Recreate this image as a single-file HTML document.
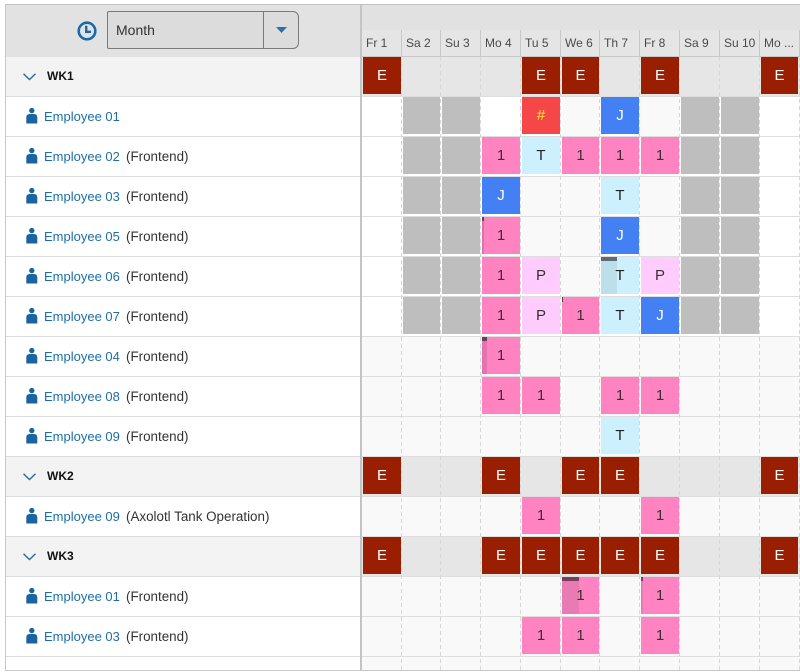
<!DOCTYPE html>
<html><head><meta charset="utf-8"><style>
*{margin:0;padding:0;box-sizing:border-box}
body{width:800px;height:672px;position:relative;overflow:hidden;background:#fff;font-family:"Liberation Sans",Arial,sans-serif}
.a{position:absolute}
.c{position:absolute;height:37px;line-height:37px;text-align:center;font-size:15px;color:#333}
.E{background:#9a1f00;color:#fff}
.P1{background:#ff82c1}
.T{background:#cdf0fe;color:#222}
.J{background:#4380f4;color:#fff}
.P{background:#ffccfd}
.G{background:#bebebe}
.R{background:#f54747;color:#ffe640}
.nm{position:absolute;left:44px;height:39px;line-height:39px;font-size:13px;color:#1d6ea6;white-space:nowrap}
.nm span{color:#333;font-size:13.4px;position:absolute;left:82px;top:0}
.wk{position:absolute;left:47px;height:39px;line-height:39px;font-size:12px;font-weight:bold;color:#111}
.hl{position:absolute;left:6px;width:354px;height:1px;background:#dcdcdc}
.rl{position:absolute;left:362px;width:438px;height:1px;background:#dedede}
.d{position:absolute;top:30px;height:27px;line-height:26px;font-size:12px;color:#4a4a4a;padding-left:4px;border-right:1px solid #c8c8c8;border-bottom:1px solid #c8c8c8;background:#e5e5e5;white-space:nowrap;overflow:hidden}
.pi{position:absolute;left:26px}
.cv{position:absolute;left:23px}
</style></head><body>

<!-- left header -->
<div class="a" style="left:6px;top:5px;width:354px;height:52px;background:#e2e2e2"></div>
<svg class="a" style="left:76px;top:20px" width="22" height="22" viewBox="0 0 22 22">
<circle cx="11" cy="11" r="8.3" fill="none" stroke="#1a6aab" stroke-width="2.6"/>
<path d="M10.2 5.8 V11.8 H15" fill="none" stroke="#1a6aab" stroke-width="2.4"/>
</svg>
<div class="a" style="left:107px;top:11px;width:192px;height:38px;background:#dcdcdc;border:1px solid #7a7a7a;border-radius:2px 6px 6px 2px"></div>
<div class="a" style="left:263px;top:12px;width:1px;height:36px;background:#7a7a7a"></div>
<div class="a" style="left:116px;top:11px;height:38px;line-height:38px;font-size:14px;color:#333">Month</div>
<svg class="a" style="left:276px;top:27px" width="11" height="6" viewBox="0 0 11 6"><path d="M0 0 H11 L5.5 6 Z" fill="#2a6fb0"/></svg>

<!-- right header -->
<div class="a" style="left:362px;top:5px;width:438px;height:25px;background:#e1e1e1"></div>
<div class="a" style="left:362px;top:30px;width:438px;height:1px;background:#c8c8c8"></div>
<div class="d" style="left:362px;width:40px">Fr 1</div>
<div class="d" style="left:402px;width:39px">Sa 2</div>
<div class="d" style="left:441px;width:40px">Su 3</div>
<div class="d" style="left:481px;width:40px">Mo 4</div>
<div class="d" style="left:521px;width:40px">Tu 5</div>
<div class="d" style="left:561px;width:39px">We 6</div>
<div class="d" style="left:600px;width:40px">Th 7</div>
<div class="d" style="left:640px;width:40px">Fr 8</div>
<div class="d" style="left:680px;width:40px">Sa 9</div>
<div class="d" style="left:720px;width:40px">Su 10</div>
<div class="d" style="left:760px;width:40px">Mo ...</div>

<!-- left row backgrounds -->
<div class="a" style="left:6px;top:57px;width:354px;height:39px;background:#f3f3f3"></div>
<div class="a" style="left:6px;top:457px;width:354px;height:39px;background:#f3f3f3"></div>
<div class="a" style="left:6px;top:537px;width:354px;height:39px;background:#f3f3f3"></div>

<!-- right row backgrounds -->
<div class="a" style="left:362px;top:57px;width:438px;height:39px;background:#e6e6e6"></div>
<div class="a" style="left:362px;top:337px;width:438px;height:119px;background:#f9f9f9"></div>
<div class="a" style="left:362px;top:457px;width:438px;height:39px;background:#e6e6e6"></div>
<div class="a" style="left:362px;top:497px;width:438px;height:39px;background:#f9f9f9"></div>
<div class="a" style="left:362px;top:537px;width:438px;height:39px;background:#e6e6e6"></div>
<div class="a" style="left:362px;top:577px;width:438px;height:94px;background:#f9f9f9"></div>
<!-- light cells in WK1 section -->
<div class="a" style="left:561px;top:97px;width:38px;height:39px;background:#f9f9f9"></div>
<div class="a" style="left:640px;top:97px;width:39px;height:39px;background:#f9f9f9"></div>
<div class="a" style="left:521px;top:177px;width:39px;height:39px;background:#f9f9f9"></div>
<div class="a" style="left:561px;top:177px;width:38px;height:39px;background:#f9f9f9"></div>
<div class="a" style="left:640px;top:177px;width:39px;height:39px;background:#f9f9f9"></div>
<div class="a" style="left:521px;top:217px;width:39px;height:39px;background:#f9f9f9"></div>
<div class="a" style="left:561px;top:217px;width:38px;height:39px;background:#f9f9f9"></div>
<div class="a" style="left:640px;top:217px;width:39px;height:39px;background:#f9f9f9"></div>
<div class="a" style="left:561px;top:257px;width:38px;height:39px;background:#f9f9f9"></div>

<!-- row lines -->
<div class="hl" style="top:96px"></div><div class="hl" style="top:136px"></div><div class="hl" style="top:176px"></div>
<div class="hl" style="top:216px"></div><div class="hl" style="top:256px"></div><div class="hl" style="top:296px"></div>
<div class="hl" style="top:336px"></div><div class="hl" style="top:376px"></div><div class="hl" style="top:416px"></div>
<div class="hl" style="top:456px"></div><div class="hl" style="top:496px"></div><div class="hl" style="top:536px"></div>
<div class="hl" style="top:576px"></div><div class="hl" style="top:616px"></div><div class="hl" style="top:656px"></div>
<div class="rl" style="top:96px"></div><div class="rl" style="top:136px"></div><div class="rl" style="top:176px"></div>
<div class="rl" style="top:216px"></div><div class="rl" style="top:256px"></div><div class="rl" style="top:296px"></div>
<div class="rl" style="top:336px"></div><div class="rl" style="top:376px"></div><div class="rl" style="top:416px"></div>
<div class="rl" style="top:456px"></div><div class="rl" style="top:496px"></div><div class="rl" style="top:536px"></div>
<div class="rl" style="top:576px"></div><div class="rl" style="top:616px"></div><div class="rl" style="top:656px"></div>

<!-- dashed column lines -->
<svg class="a" style="left:0;top:0" width="800" height="672">
<g stroke="#d6d6d6" stroke-width="1" stroke-dasharray="4 3">
<line x1="401.5" y1="57" x2="401.5" y2="670"/>
<line x1="440.5" y1="57" x2="440.5" y2="670"/>
<line x1="480.5" y1="57" x2="480.5" y2="670"/>
<line x1="520.5" y1="57" x2="520.5" y2="670"/>
<line x1="560.5" y1="57" x2="560.5" y2="670"/>
<line x1="599.5" y1="57" x2="599.5" y2="670"/>
<line x1="639.5" y1="57" x2="639.5" y2="670"/>
<line x1="679.5" y1="57" x2="679.5" y2="670"/>
<line x1="719.5" y1="57" x2="719.5" y2="670"/>
<line x1="759.5" y1="57" x2="759.5" y2="670"/>
<line x1="799.5" y1="57" x2="799.5" y2="670"/>
</g>
</svg>

<!-- left labels -->
<svg class="cv" style="top:73px" width="13" height="8" viewBox="0 0 13 8"><polyline points="0.5,0.8 6.5,6.5 12.5,0.8" fill="none" stroke="#2a6aa5" stroke-width="1.4"/></svg>
<div class="wk" style="top:57px">WK1</div>
<svg class="cv" style="top:473px" width="13" height="8" viewBox="0 0 13 8"><polyline points="0.5,0.8 6.5,6.5 12.5,0.8" fill="none" stroke="#2a6aa5" stroke-width="1.4"/></svg>
<div class="wk" style="top:457px">WK2</div>
<svg class="cv" style="top:553px" width="13" height="8" viewBox="0 0 13 8"><polyline points="0.5,0.8 6.5,6.5 12.5,0.8" fill="none" stroke="#2a6aa5" stroke-width="1.4"/></svg>
<div class="wk" style="top:537px">WK3</div>

<svg class="pi" style="top:108px" width="12" height="17" viewBox="0 0 12 17"><circle cx="5.8" cy="2.6" r="2.7" fill="#1a62a0"/><path d="M0.3 15.5 V9.5 Q0.3 6 3.8 6 H7.8 Q11.3 6 11.3 9.5 V15.5 Z" fill="#1a62a0"/></svg>
<div class="nm" style="top:97px">Employee 01</div>
<svg class="pi" style="top:148px" width="12" height="17" viewBox="0 0 12 17"><circle cx="5.8" cy="2.6" r="2.7" fill="#1a62a0"/><path d="M0.3 15.5 V9.5 Q0.3 6 3.8 6 H7.8 Q11.3 6 11.3 9.5 V15.5 Z" fill="#1a62a0"/></svg>
<div class="nm" style="top:137px">Employee 02 <span>(Frontend)</span></div>
<svg class="pi" style="top:188px" width="12" height="17" viewBox="0 0 12 17"><circle cx="5.8" cy="2.6" r="2.7" fill="#1a62a0"/><path d="M0.3 15.5 V9.5 Q0.3 6 3.8 6 H7.8 Q11.3 6 11.3 9.5 V15.5 Z" fill="#1a62a0"/></svg>
<div class="nm" style="top:177px">Employee 03 <span>(Frontend)</span></div>
<svg class="pi" style="top:228px" width="12" height="17" viewBox="0 0 12 17"><circle cx="5.8" cy="2.6" r="2.7" fill="#1a62a0"/><path d="M0.3 15.5 V9.5 Q0.3 6 3.8 6 H7.8 Q11.3 6 11.3 9.5 V15.5 Z" fill="#1a62a0"/></svg>
<div class="nm" style="top:217px">Employee 05 <span>(Frontend)</span></div>
<svg class="pi" style="top:268px" width="12" height="17" viewBox="0 0 12 17"><circle cx="5.8" cy="2.6" r="2.7" fill="#1a62a0"/><path d="M0.3 15.5 V9.5 Q0.3 6 3.8 6 H7.8 Q11.3 6 11.3 9.5 V15.5 Z" fill="#1a62a0"/></svg>
<div class="nm" style="top:257px">Employee 06 <span>(Frontend)</span></div>
<svg class="pi" style="top:308px" width="12" height="17" viewBox="0 0 12 17"><circle cx="5.8" cy="2.6" r="2.7" fill="#1a62a0"/><path d="M0.3 15.5 V9.5 Q0.3 6 3.8 6 H7.8 Q11.3 6 11.3 9.5 V15.5 Z" fill="#1a62a0"/></svg>
<div class="nm" style="top:297px">Employee 07 <span>(Frontend)</span></div>
<svg class="pi" style="top:348px" width="12" height="17" viewBox="0 0 12 17"><circle cx="5.8" cy="2.6" r="2.7" fill="#1a62a0"/><path d="M0.3 15.5 V9.5 Q0.3 6 3.8 6 H7.8 Q11.3 6 11.3 9.5 V15.5 Z" fill="#1a62a0"/></svg>
<div class="nm" style="top:337px">Employee 04 <span>(Frontend)</span></div>
<svg class="pi" style="top:388px" width="12" height="17" viewBox="0 0 12 17"><circle cx="5.8" cy="2.6" r="2.7" fill="#1a62a0"/><path d="M0.3 15.5 V9.5 Q0.3 6 3.8 6 H7.8 Q11.3 6 11.3 9.5 V15.5 Z" fill="#1a62a0"/></svg>
<div class="nm" style="top:377px">Employee 08 <span>(Frontend)</span></div>
<svg class="pi" style="top:428px" width="12" height="17" viewBox="0 0 12 17"><circle cx="5.8" cy="2.6" r="2.7" fill="#1a62a0"/><path d="M0.3 15.5 V9.5 Q0.3 6 3.8 6 H7.8 Q11.3 6 11.3 9.5 V15.5 Z" fill="#1a62a0"/></svg>
<div class="nm" style="top:417px">Employee 09 <span>(Frontend)</span></div>
<svg class="pi" style="top:508px" width="12" height="17" viewBox="0 0 12 17"><circle cx="5.8" cy="2.6" r="2.7" fill="#1a62a0"/><path d="M0.3 15.5 V9.5 Q0.3 6 3.8 6 H7.8 Q11.3 6 11.3 9.5 V15.5 Z" fill="#1a62a0"/></svg>
<div class="nm" style="top:497px">Employee 09 <span>(Axolotl Tank Operation)</span></div>
<svg class="pi" style="top:588px" width="12" height="17" viewBox="0 0 12 17"><circle cx="5.8" cy="2.6" r="2.7" fill="#1a62a0"/><path d="M0.3 15.5 V9.5 Q0.3 6 3.8 6 H7.8 Q11.3 6 11.3 9.5 V15.5 Z" fill="#1a62a0"/></svg>
<div class="nm" style="top:577px">Employee 01 <span>(Frontend)</span></div>
<svg class="pi" style="top:628px" width="12" height="17" viewBox="0 0 12 17"><circle cx="5.8" cy="2.6" r="2.7" fill="#1a62a0"/><path d="M0.3 15.5 V9.5 Q0.3 6 3.8 6 H7.8 Q11.3 6 11.3 9.5 V15.5 Z" fill="#1a62a0"/></svg>
<div class="nm" style="top:617px">Employee 03 <span>(Frontend)</span></div>

<!-- k0 WK1 -->
<div class="c E" style="left:363px;top:57px;width:38px">E</div>
<div class="c E" style="left:522px;top:57px;width:38px">E</div>
<div class="c E" style="left:562px;top:57px;width:37px">E</div>
<div class="c E" style="left:641px;top:57px;width:38px">E</div>
<div class="c E" style="left:761px;top:57px;width:37px">E</div>

<!-- k1 -->
<div class="c G" style="left:403px;top:97px;width:37px"></div>
<div class="c G" style="left:442px;top:97px;width:38px"></div>
<div class="c G" style="left:681px;top:97px;width:38px"></div>
<div class="c G" style="left:721px;top:97px;width:38px"></div>
<div class="c R" style="left:522px;top:97px;width:38px">#</div>
<div class="c J" style="left:601px;top:97px;width:38px">J</div>

<!-- k2 -->
<div class="c G" style="left:403px;top:137px;width:37px"></div>
<div class="c G" style="left:442px;top:137px;width:38px"></div>
<div class="c G" style="left:681px;top:137px;width:38px"></div>
<div class="c G" style="left:721px;top:137px;width:38px"></div>
<div class="c P1" style="left:482px;top:137px;width:38px">1</div>
<div class="c T" style="left:522px;top:137px;width:38px">T</div>
<div class="c P1" style="left:562px;top:137px;width:37px">1</div>
<div class="c P1" style="left:601px;top:137px;width:38px">1</div>
<div class="c P1" style="left:641px;top:137px;width:38px">1</div>

<!-- k3 -->
<div class="c G" style="left:403px;top:177px;width:37px"></div>
<div class="c G" style="left:442px;top:177px;width:38px"></div>
<div class="c G" style="left:681px;top:177px;width:38px"></div>
<div class="c G" style="left:721px;top:177px;width:38px"></div>
<div class="c J" style="left:482px;top:177px;width:38px">J</div>
<div class="c T" style="left:601px;top:177px;width:38px">T</div>

<!-- k4 -->
<div class="c G" style="left:403px;top:217px;width:37px"></div>
<div class="c G" style="left:442px;top:217px;width:38px"></div>
<div class="c G" style="left:681px;top:217px;width:38px"></div>
<div class="c G" style="left:721px;top:217px;width:38px"></div>
<div class="c" style="left:482px;top:217px;width:38px;background:linear-gradient(#6d3a55,#6d3a55) 0 0/2px 4px no-repeat,linear-gradient(to right,#e070a8 2px,#ff82c1 2px)">1</div>
<div class="c J" style="left:601px;top:217px;width:38px">J</div>

<!-- k5 -->
<div class="c G" style="left:403px;top:257px;width:37px"></div>
<div class="c G" style="left:442px;top:257px;width:38px"></div>
<div class="c G" style="left:681px;top:257px;width:38px"></div>
<div class="c G" style="left:721px;top:257px;width:38px"></div>
<div class="c P1" style="left:482px;top:257px;width:38px">1</div>
<div class="c P" style="left:522px;top:257px;width:38px">P</div>
<div class="c" style="left:601px;top:257px;width:38px;color:#222;background:linear-gradient(#5d6b72,#5d6b72) 0 0/16px 4px no-repeat,linear-gradient(to right,#bddfe9 16px,#cdf0fe 16px)">T</div>
<div class="c P" style="left:641px;top:257px;width:38px">P</div>

<!-- k6 -->
<div class="c G" style="left:403px;top:297px;width:37px"></div>
<div class="c G" style="left:442px;top:297px;width:38px"></div>
<div class="c G" style="left:681px;top:297px;width:38px"></div>
<div class="c G" style="left:721px;top:297px;width:38px"></div>
<div class="c P1" style="left:482px;top:297px;width:38px">1</div>
<div class="c P" style="left:522px;top:297px;width:38px">P</div>
<div class="c" style="left:562px;top:297px;width:37px;background:linear-gradient(#6d3a55,#6d3a55) 0 0/1px 5px no-repeat,#ff82c1">1</div>
<div class="c T" style="left:601px;top:297px;width:38px">T</div>
<div class="c J" style="left:641px;top:297px;width:38px">J</div>

<!-- k7 -->
<div class="c" style="left:482px;top:337px;width:38px;background:linear-gradient(#6e3d57,#6e3d57) 0 0/5px 4px no-repeat,linear-gradient(to right,#e374ae 5px,#ff82c1 5px)">1</div>

<!-- k8 -->
<div class="c P1" style="left:482px;top:377px;width:38px">1</div>
<div class="c P1" style="left:522px;top:377px;width:38px">1</div>
<div class="c P1" style="left:601px;top:377px;width:38px">1</div>
<div class="c P1" style="left:641px;top:377px;width:38px">1</div>

<!-- k9 -->
<div class="c T" style="left:601px;top:417px;width:38px">T</div>

<!-- k10 WK2 -->
<div class="c E" style="left:363px;top:457px;width:38px">E</div>
<div class="c E" style="left:482px;top:457px;width:38px">E</div>
<div class="c E" style="left:562px;top:457px;width:37px">E</div>
<div class="c E" style="left:601px;top:457px;width:38px">E</div>
<div class="c E" style="left:761px;top:457px;width:37px">E</div>

<!-- k11 -->
<div class="c P1" style="left:522px;top:497px;width:38px">1</div>
<div class="c P1" style="left:641px;top:497px;width:38px">1</div>

<!-- k12 WK3 -->
<div class="c E" style="left:363px;top:537px;width:38px">E</div>
<div class="c E" style="left:482px;top:537px;width:38px">E</div>
<div class="c E" style="left:522px;top:537px;width:38px">E</div>
<div class="c E" style="left:562px;top:537px;width:37px">E</div>
<div class="c E" style="left:601px;top:537px;width:38px">E</div>
<div class="c E" style="left:641px;top:537px;width:38px">E</div>
<div class="c E" style="left:761px;top:537px;width:37px">E</div>

<!-- k13 -->
<div class="c" style="left:562px;top:577px;width:37px;background:linear-gradient(#7a3d5e,#7a3d5e) 0 0/17px 4px no-repeat,linear-gradient(to right,#ea7ab4 17px,#ff82c1 17px)">1</div>
<div class="c" style="left:641px;top:577px;width:38px;background:linear-gradient(#7a3d5e,#7a3d5e) 0 0/2px 4px no-repeat,linear-gradient(to right,#ea7ab4 2px,#ff82c1 2px)">1</div>

<!-- k14 -->
<div class="c P1" style="left:522px;top:617px;width:38px">1</div>
<div class="c P1" style="left:562px;top:617px;width:37px">1</div>
<div class="c P1" style="left:641px;top:617px;width:38px">1</div>

<!-- borders -->
<div class="a" style="left:5px;top:4px;width:795px;height:1px;background:#c2c2c2"></div>
<div class="a" style="left:5px;top:4px;width:1px;height:667px;background:#c8c8c8"></div>
<div class="a" style="left:5px;top:670px;width:795px;height:1px;background:#c8c8c8"></div>
<div class="a" style="left:360px;top:4px;width:2px;height:667px;background:#c4c4c4"></div>

</body></html>
